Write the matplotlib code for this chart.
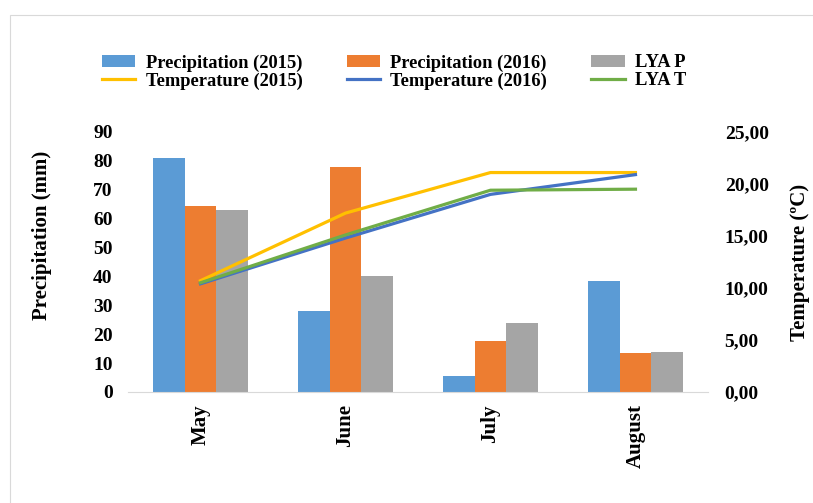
import numpy as np
import matplotlib
matplotlib.use("Agg")
import matplotlib.pyplot as plt
from matplotlib.patches import Rectangle

plt.rcParams["font.family"] = ["Liberation Serif", "DejaVu Serif"]
plt.rcParams["font.weight"] = "bold"

months = ["May", "June", "July", "August"]
precip_2015 = [81, 28, 5.5, 38.5]
precip_2016 = [64.5, 78, 17.5, 13.5]
lya_p = [63, 40, 24, 14]
temp_2015 = [10.7, 17.2, 21.1, 21.1]
temp_2016 = [10.4, 14.8, 19.0, 20.9]
lya_t = [10.5, 15.1, 19.4, 19.5]

fig = plt.figure(figsize=(8.13, 5.03), dpi=100)
# light frame of the chart area
fig.patches.append(Rectangle((0.012, -0.01), 1.0, 0.98, transform=fig.transFigure,
                             fill=False, edgecolor="#d9d9d9", linewidth=0.8))

ax = fig.add_axes([0.1574, 0.2207, 0.7134, 0.5169])
x = np.arange(len(months))
w = 0.22
b1 = ax.bar(x - w, precip_2015, w, color="#5B9BD5", label="Precipitation (2015)")
b2 = ax.bar(x, precip_2016, w, color="#ED7D31", label="Precipitation (2016)")
b3 = ax.bar(x + w, lya_p, w, color="#A5A5A5", label="LYA P")
ax.set_ylim(0, 90)
ax.set_yticks(range(0, 91, 10))
ax.set_xlim(-0.5, 3.5)
ax.set_xticks(x)
ax.set_xticklabels(months, rotation=90, fontsize=15, fontweight="bold")
for s in ["top", "left", "right"]:
    ax.spines[s].set_visible(False)
ax.spines["bottom"].set_color("#d9d9d9")
ax.tick_params(axis="both", length=0)
ax.tick_params(axis="y", pad=11, labelsize=14)
ax.tick_params(axis="x", pad=9)
ax.set_ylabel("Precipitation (mm)", fontsize=15, fontweight="bold", va="center")
ax.yaxis.set_label_coords(-0.148, 0.604)

ax2 = ax.twinx()
l1, = ax2.plot(x, temp_2015, color="#FFC000", lw=2.3, label="Temperature (2015)")
l2, = ax2.plot(x, temp_2016, color="#4472C4", lw=2.3, label="Temperature (2016)")
l3, = ax2.plot(x, lya_t, color="#70AD47", lw=2.3, label="LYA T")
ax2.set_ylim(0, 25)
ticks_t = np.arange(0, 26, 5)
ax2.set_yticks(ticks_t)
ax2.set_yticklabels([f"{v:.2f}".replace(".", ",") for v in ticks_t])
for s in ["top", "left", "right", "bottom"]:
    ax2.spines[s].set_visible(False)
ax2.tick_params(axis="y", length=0, labelsize=14, pad=12)
ax2.set_ylabel("Temperature (ºC)", fontsize=15, fontweight="bold", va="center")
ax2.yaxis.set_label_coords(1.158, 0.5)

handles = [b1, l1, b2, l2, b3, l3]
fig.legend(handles, [h.get_label() for h in handles], ncol=3, loc="upper left",
           bbox_to_anchor=(93 / 813, 1 - 45 / 503), frameon=False, borderpad=0,
           prop={"weight": "bold", "size": 13.3}, handlelength=1.8,
           columnspacing=2.4, labelspacing=0.05, handletextpad=0.55)

fig.savefig("out.png", dpi=100, facecolor="white")
